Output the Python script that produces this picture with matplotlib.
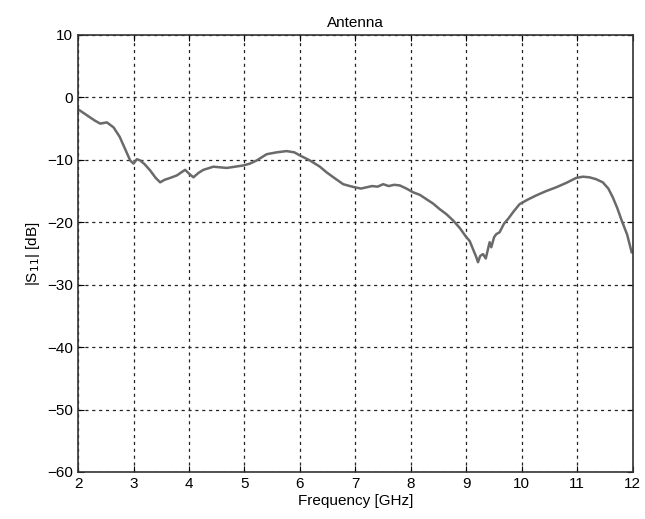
import matplotlib.pyplot as plt

# значения
freq = [2.0, 2.15, 2.3, 2.4, 2.52, 2.64, 2.75, 2.82, 2.94, 3.0, 3.06, 3.12, 3.2, 3.3,
        3.4, 3.48, 3.56, 3.66, 3.78, 3.93, 4.0, 4.08, 4.17, 4.26, 4.44, 4.68, 4.98,
        5.1, 5.22, 5.4, 5.58, 5.76, 5.9, 6.0, 6.18, 6.36, 6.48, 6.62, 6.78, 6.9, 6.99,
        7.1, 7.2, 7.3, 7.4, 7.5, 7.6, 7.7, 7.8, 7.92, 8.04, 8.16, 8.28, 8.4, 8.52,
        8.64, 8.76, 8.88, 9.0, 9.06, 9.12, 9.18, 9.21, 9.25, 9.3, 9.35, 9.42, 9.45,
        9.5, 9.54, 9.6, 9.68, 9.75, 9.85, 9.96, 10.1, 10.26, 10.44, 10.62, 10.8,
        10.98, 11.1, 11.22, 11.34, 11.46, 11.56, 11.64, 11.72, 11.8, 11.9, 11.98]
s11 = [-1.9, -2.8, -3.7, -4.2, -4.0, -4.8, -6.3, -7.7, -10.1, -10.6, -9.9, -10.1,
       -10.7, -11.7, -12.9, -13.6, -13.2, -12.9, -12.5, -11.6, -12.2, -12.8, -12.1,
       -11.6, -11.1, -11.3, -10.9, -10.6, -10.1, -9.1, -8.8, -8.6, -8.8, -9.3, -10.1,
       -11.1, -12.0, -12.9, -13.9, -14.2, -14.4, -14.6, -14.4, -14.2, -14.3, -13.9,
       -14.2, -14.0, -14.1, -14.6, -15.2, -15.6, -16.3, -17.0, -17.9, -18.7, -19.7,
       -20.9, -22.4, -23.0, -24.3, -25.6, -26.4, -25.4, -25.1, -25.8, -23.2, -24.0,
       -22.4, -21.9, -21.6, -20.2, -19.5, -18.3, -17.1, -16.4, -15.7, -15.0, -14.4,
       -13.7, -12.9, -12.7, -12.8, -13.1, -13.6, -14.6, -16.0, -17.7, -19.7, -22.0,
       -24.8]

plt.rcParams['font.family'] = ['Liberation Sans', 'DejaVu Sans']

fig = plt.figure(figsize=(6.45, 5.19), dpi=100)
ax = fig.add_axes([0.121, 0.0906, 0.86, 0.842])
ax.plot(freq, s11, color='#6a6a6a', linewidth=1.8)

ax.set_xlim(2, 12)
ax.set_ylim(-60, 10)
ax.set_xticks(range(2, 13))
ax.set_yticks(range(-60, 11, 10))
ax.grid(True, color='#222222', linestyle=(0, (2.5, 3)), linewidth=0.9)
ax.tick_params(direction='in', labelsize=11, length=4, top=True, right=True)
for sp in ax.spines.values():
    sp.set_linewidth(1.2)
    sp.set_color('#333333')

ax.set_title('Antenna', fontsize=11)
ax.set_xlabel('Frequency [GHz]', fontsize=11, labelpad=2)
ax.set_ylabel('|S$_{11}$| [dB]', fontsize=11)

plt.savefig('out.png', dpi=100)
